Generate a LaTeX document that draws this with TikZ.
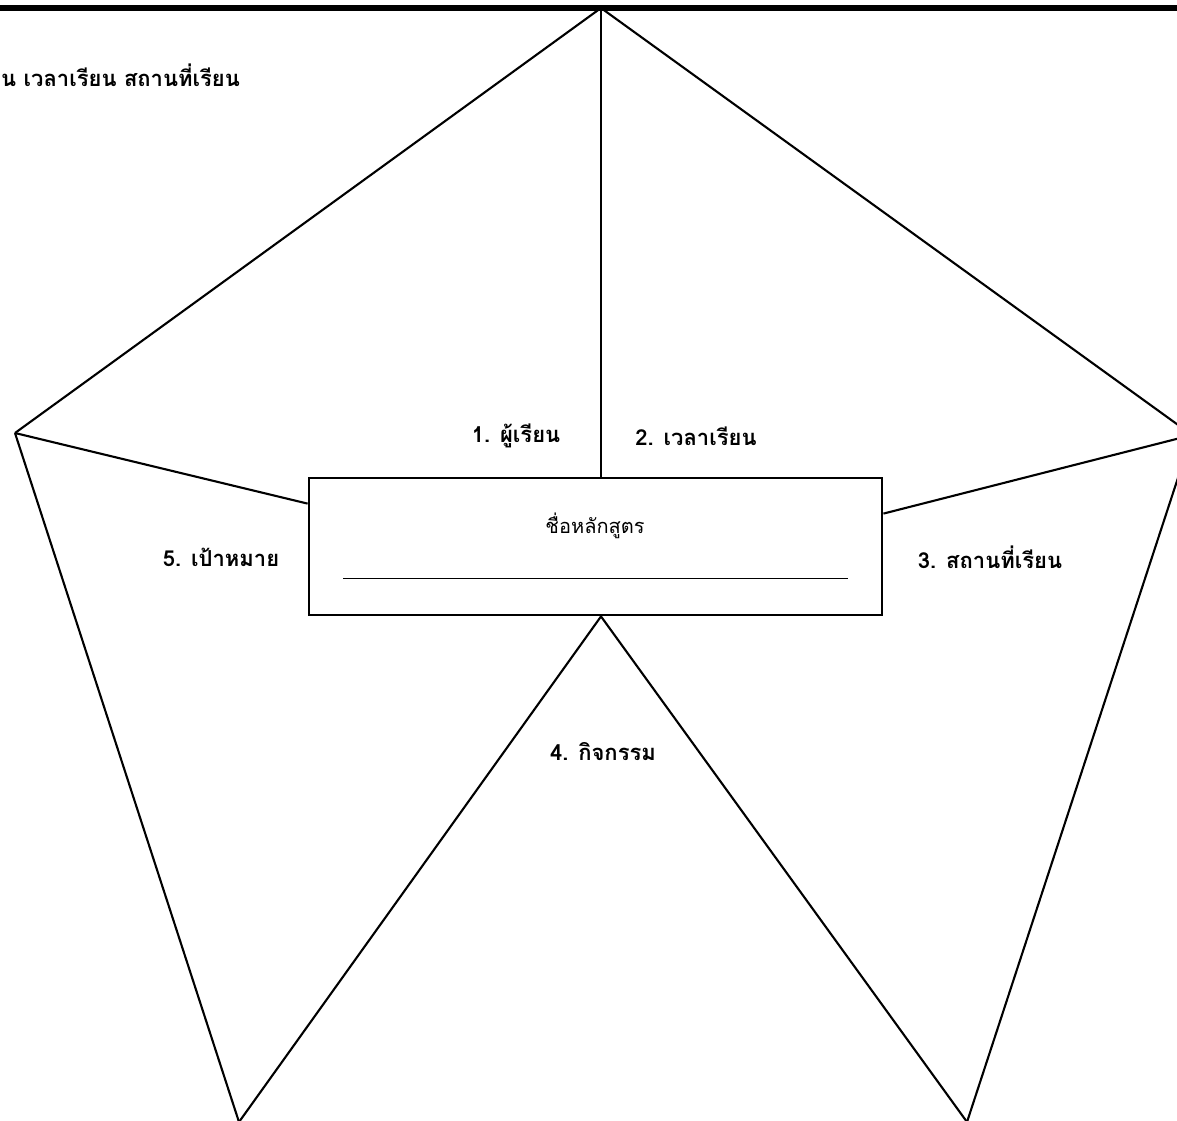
\documentclass[tikz,border=0pt]{standalone}
\usepackage{fontspec}
\usepackage{tikz}
\usetikzlibrary{positioning}
\newfontfamily\thaifont[Script=Thai]{Loma}

\tikzset{
  edge/.style={line width=2.1pt, line join=miter},
  lbl/.style={font=\thaifont\bfseries\fontsize{22}{26}\selectfont, inner sep=0pt},
  coursebox/.style={draw, line width=2.8pt, minimum width=573pt, minimum height=137pt, inner sep=0pt},
}

\begin{document}
\begin{tikzpicture}[x=1pt,y=-1pt]
    \useasboundingbox (0,0) rectangle (1177,1120);
    \clip (0,0) rectangle (1177,1120);
    % top rule
    \draw[line width=6pt] (0,8) -- (1177,8);
    % corners of the star
    \coordinate (apex) at (601,8);
    \coordinate (lv)   at (15,433);
    \coordinate (rv)   at (1192,435);
    \coordinate (blv)  at (239,1122);
    \coordinate (brv)  at (967,1122);
    % centre box
    \node[coursebox] (course) at (595.5,546.5) {};
    \node[font=\thaifont\fontsize{20}{24}\selectfont, inner sep=0pt] (title) at (595,526) {ชื่อหลักสูตร};
    \draw[line width=0.9pt] (343,578) -- (848,578);
    % outer edges
    \draw[edge] (lv) -- (apex) -- (rv) -- (brv);
    \draw[edge] (lv) -- (blv);
    % spokes to the box
    \draw[edge] (apex) -- (apex |- course.north);
    \draw[edge] (lv) -- ([yshift=-27pt]course.north west);
    \draw[edge] (rv) -- ([yshift=-37pt]course.north east);
    \draw[edge] (blv) -- (apex |- course.south) -- (brv);
    % labels
    \node[lbl, anchor=west] (note) at (1,75) {น เวลาเรียน สถานที่เรียน};
    \node[lbl] (learner) at (516,436) {1. ผู้เรียน};
    \node[lbl] (time)    at (696,436) {2. เวลาเรียน};
    \node[lbl] (place)   at (990,557) {3. สถานที่เรียน};
    \node[lbl] (act)     at (603,752) {4. กิจกรรม};
    \node[lbl] (goal)    at (221,557) {5. เป้าหมาย};
\end{tikzpicture}
\end{document}
